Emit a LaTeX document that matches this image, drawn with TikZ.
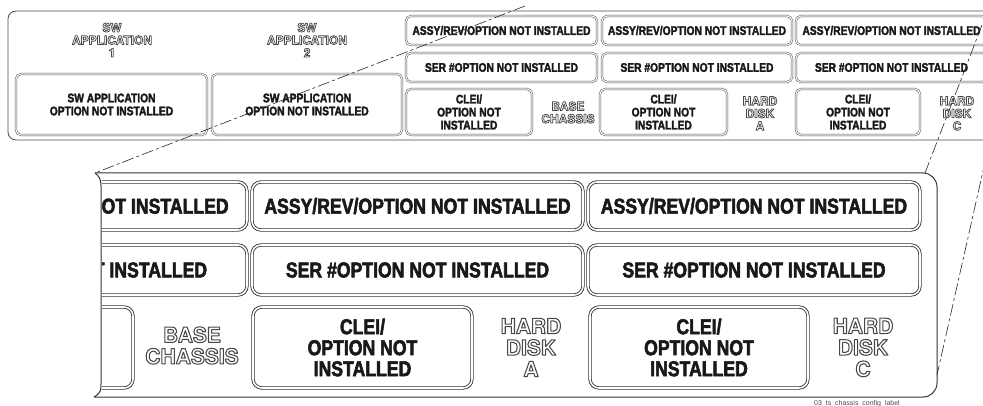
\documentclass[tikz,border=0pt]{standalone}
\usepackage{fontspec}
\setmainfont{Liberation Sans}
\newfontfamily\bfcond[FakeStretch=0.82]{Liberation Sans Bold}
\newfontfamily\herosfam{TeX Gyre Heros}
\newcommand\outlt[1]{\special{pdf:literal direct 1 Tr 0.75 w 1 j}#1\special{pdf:literal direct 0 Tr}}
\newcommand\outll[1]{\special{pdf:literal direct 1 Tr 1.05 w 1 j}#1\special{pdf:literal direct 0 Tr}}
\newcommand\hvt[1]{\special{pdf:literal direct 2 Tr 0.3 w 1 j}#1\special{pdf:literal direct 0 Tr}}
\newcommand\hvl[1]{\special{pdf:literal direct 2 Tr 0.55 w 1 j}#1\special{pdf:literal direct 0 Tr}}
\newcommand\bx[7]{%
  \pgfmathsetmacro\bxX{(#3+#5)/2}\pgfmathsetmacro\bxY{(#4+#6)/2}%
  \pgfmathsetmacro\bxW{#5-#3}\pgfmathsetmacro\bxH{#6-#4}%
  \node[#1, minimum width=\bxW pt, minimum height=\bxH pt] (#2) at (\bxX,\bxY) {#7};}
\begin{document}
\begin{tikzpicture}[x=1pt,y=-1pt,
  tbox/.style={draw=black!70, line width=0.5pt, double=white, double distance=1.1pt,
    rounded corners=5pt, inner sep=0pt, align=center, text=black!90,
    font=\bfcond\fontsize{12.5}{13}\selectfont},
  lbox/.style={draw=black!80, line width=0.85pt, double=white, double distance=1.6pt,
    rounded corners=9pt, inner sep=0pt, align=center, text=black!90,
    font=\bfcond\fontsize{21.5}{21}\selectfont},
  tlab/.style={align=center, inner sep=0pt, text=black!72,
    font=\herosfam\bfseries\fontsize{12}{12.5}\selectfont},
  llab/.style={align=center, inner sep=0pt, text=black!72,
    font=\herosfam\bfseries\fontsize{21}{21.5}\selectfont},
  panel/.style={draw=black!70, line width=0.8pt, rounded corners=8pt, inner sep=0pt},
  lpanel/.style={draw=black!80, line width=1pt},
  zoomline/.style={draw=black!85, line width=0.6pt, dash pattern=on 12pt off 3pt on 3pt off 3pt}]

% ---------- top panel ----------
\bx{panel}{tp}{8}{11}{1000}{140}{}

% ---------- outlined labels ----------
\node[tlab] (app1) at (112,40) {\outlt{SW\\APPLICATION\\1}};
\node[tlab] (app2) at (307,40) {\outlt{SW\\APPLICATION\\2}};
\node[tlab] (tbase) at (568,112.5) {\outlt{BASE\\CHASSIS}};
\node[tlab] (thda) at (760,113.5) {\outlt{HARD\\DISK\\A}};
\node[tlab] (thdc) at (957,113.5) {\outlt{HARD\\DISK\\C}};
\node[llab] (lbase) at (192,345.5) {\outll{BASE\\CHASSIS}};
\node[llab] (lhda) at (531,347.5) {\outll{HARD\\DISK\\A}};
\node[llab] (lhdc) at (863,347.5) {\outll{HARD\\DISK\\C}};

% ---------- top boxes ----------
\bx{tbox}{sw1}{16}{74}{207}{135}{\hvt{SW APPLICATION\\OPTION NOT INSTALLED}}
\bx{tbox}{sw2}{212}{74}{402}{135}{\hvt{SW APPLICATION\\OPTION NOT INSTALLED}}
\bx{tbox}{ta1}{406}{16}{597}{45}{\hvt{ASSY/REV/OPTION NOT INSTALLED}}
\bx{tbox}{ta2}{602}{16}{792}{45}{\hvt{ASSY/REV/OPTION NOT INSTALLED}}
\bx{tbox}{ta3}{796}{16}{987}{45}{\hvt{ASSY/REV/OPTION NOT INSTALLED}}
\bx{tbox}{ts1}{406}{53}{597}{82}{\hvt{SER \#OPTION NOT INSTALLED}}
\bx{tbox}{ts2}{602}{53}{792}{82}{\hvt{SER \#OPTION NOT INSTALLED}}
\bx{tbox}{ts3}{796}{53}{987}{82}{\hvt{SER \#OPTION NOT INSTALLED}}
\bx{tbox}{tc1}{406}{89}{532}{135}{\hvt{CLEI/\\OPTION NOT\\INSTALLED}}
\bx{tbox}{tc2}{600}{89}{727}{135}{\hvt{CLEI/\\OPTION NOT\\INSTALLED}}
\bx{tbox}{tc3}{796}{89}{920}{135}{\hvt{CLEI/\\OPTION NOT\\INSTALLED}}

% ---------- lower (enlarged) panel ----------
\coordinate (lptl) at (95,173);
\coordinate (lptr) at (925,173);
\coordinate (lpr) at (937,375);
\draw[lpanel] (94,397) .. controls (101,393) and (101,390) .. (101,384) -- (101,186)
   .. controls (101,179) and (99,176) .. (lptl);
\draw[lpanel, rounded corners=14pt] (lptl) -- (937,173) -- (937,397) -- (94,397);

\begin{scope}
  \clip (101.8,175) rectangle (260,396);
  \bx{lbox}{pa1}{-96}{182}{247}{230}{\hvl{ASSY/REV/OPTION NOT INSTALLED}}
  \bx{lbox}{ps1}{-96}{245}{247}{295}{\hvl{SER \#OPTION NOT INSTALLED}}
  \bx{lbox}{pc1}{-85}{307}{133}{388}{}
\end{scope}
\bx{lbox}{la2}{252}{182}{583}{230}{\hvl{ASSY/REV/OPTION NOT INSTALLED}}
\bx{lbox}{la3}{588}{182}{920}{230}{\hvl{ASSY/REV/OPTION NOT INSTALLED}}
\bx{lbox}{ls2}{252}{245}{583}{295}{\hvl{SER \#OPTION NOT INSTALLED}}
\bx{lbox}{ls3}{588}{245}{920}{295}{\hvl{SER \#OPTION NOT INSTALLED}}
\bx{lbox}{lc2}{253}{307}{472}{388}{\hvl{CLEI/\\OPTION NOT\\INSTALLED}}
\bx{lbox}{lc3}{590}{307}{808}{388}{\hvl{CLEI/\\OPTION NOT\\INSTALLED}}

% ---------- zoom lines ----------
\coordinate (zl) at (525,6);
\coordinate (zr1) at (982,25);
\coordinate (zr2) at (990,140);
\draw[zoomline] (zl) -- (lptl);
\draw[zoomline] (zr1) -- (lptr);
\draw[zoomline] (zr2) -- (lpr);

\node[anchor=base, inner sep=0pt, text=black!70, font=\fontsize{7}{8}\selectfont] (cap)
  at (857,405) {03\_ts\_chassis\_config\_label};

\pgfresetboundingbox
\useasboundingbox (0,0) rectangle (983,406);
\end{tikzpicture}
\end{document}
